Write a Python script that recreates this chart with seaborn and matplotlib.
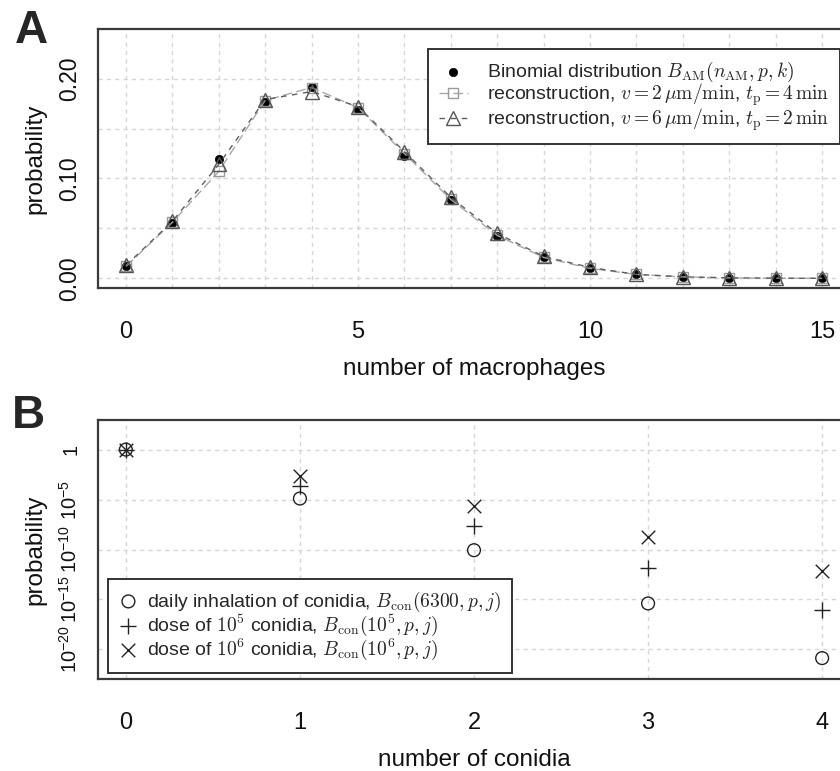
import matplotlib
matplotlib.use("Agg")
import matplotlib.pyplot as plt
import seaborn as sns
import numpy as np
import pandas as pd
from matplotlib.ticker import FixedLocator, FixedFormatter, MultipleLocator

# ---------------- data ----------------
# Panel A: number of macrophages k and probabilities
k_values = list(range(16))
binomial_prob = [0.012, 0.055, 0.120, 0.177, 0.192, 0.169, 0.123, 0.078, 0.042, 0.021,
                 0.010, 0.004, 0.0015, 0.0005, 0.0002, 0.0001]
recon_v2_prob = [0.012, 0.056, 0.107, 0.178, 0.191, 0.171, 0.125, 0.079, 0.043, 0.021,
                 0.010, 0.004, 0.0015, 0.0005, 0.0002, 0.0001]
recon_v6_prob = [0.013, 0.057, 0.114, 0.179, 0.187, 0.172, 0.127, 0.081, 0.045, 0.022,
                 0.011, 0.004, 0.0016, 0.0006, 0.0002, 0.0001]

# Panel B: number of conidia j and probabilities
j_values = [0, 1, 2, 3, 4]
daily_prob = [1.0, 1.26e-5, 8.5e-11, 4.0e-16, 1.35e-21]
dose5_prob = [1.0, 2.5e-4, 2.1e-8, 1.5e-12, 8.5e-17]
dose6_prob = [0.998, 2.1e-3, 2.1e-6, 1.6e-9, 7.9e-13]

a_yticks = [0.0, 0.05, 0.10, 0.15, 0.20]
a_yticklabels = ["0.00", "", "0.10", "", "0.20"]
a_xticks = [0, 5, 10, 15]
b_yticks = [1, 1e-5, 1e-10, 1e-15, 1e-20]
b_yticklabels = ["1", r"$\mathregular{10^{-5}}$", r"$\mathregular{10^{-10}}$",
                 r"$\mathregular{10^{-15}}$", r"$\mathregular{10^{-20}}$"]

dfA = pd.DataFrame({"k": k_values, "binom": binomial_prob,
                    "v2": recon_v2_prob, "v6": recon_v6_prob})
dfB = pd.DataFrame({"j": j_values, "daily": daily_prob,
                    "d5": dose5_prob, "d6": dose6_prob})

# ---------------- style ----------------
sns.set_theme(style="white")
plt.rcParams["font.family"] = ["Liberation Sans", "DejaVu Sans"]
plt.rcParams["mathtext.fontset"] = "cm"
plt.rcParams["mathtext.rm"] = "Liberation Sans"

W, H = 840, 771
fig = plt.figure(figsize=(W / 100, H / 100), dpi=100)


def px_axes(left, top, right, bottom):
    return fig.add_axes([left / W, 1 - bottom / H, (right - left) / W, (bottom - top) / H])


axA = px_axes(98, 29, 850, 288)
axB = px_axes(98, 420, 850, 679)

spine_col = "#3a3a3a"
grid_col = "#d6d6d6"
tick_fs = 17
lab_fs = 17.5
leg_fs = 14


def style_axes(ax, ytick_fs):
    ax.set_axisbelow(True)
    for s in ax.spines.values():
        s.set_color(spine_col)
        s.set_linewidth(1.6)
    ax.tick_params(axis="both", which="major", direction="out", length=9.5, width=1.2,
                   color="#555555", labelcolor="#111111")
    ax.tick_params(axis="x", which="major", pad=14, labelsize=tick_fs)
    ax.tick_params(axis="y", which="major", pad=3, labelsize=ytick_fs)
    ax.tick_params(axis="both", which="minor", length=0)
    ax.grid(True, which="both", color=grid_col, linestyle=(0, (3, 3)), linewidth=1.0)


# ---------------- Panel A ----------------
sns.scatterplot(data=dfA, x="k", y="binom", ax=axA, marker="o", color="black",
                s=36, edgecolor="black", linewidth=0.5, zorder=3,
                label=r"Binomial distribution $B_{\mathrm{AM}}(n_{\mathrm{AM}},p,k)$")
sns.lineplot(data=dfA, x="k", y="v2", ax=axA, color="#a8a8a8", linewidth=1.0,
             linestyle=(0, (7, 3)), marker="s", markersize=7.5,
             markerfacecolor="none", markeredgecolor="#9a9a9a", markeredgewidth=1.0,
             zorder=4,
             label=r"reconstruction, $v=2\,\mu\mathrm{m}/\mathrm{min}$, $t_{\mathrm{p}}=4\,\mathrm{min}$")
sns.lineplot(data=dfA, x="k", y="v6", ax=axA, color="#606060", linewidth=1.0,
             linestyle=(0, (4, 4)), marker="^", markersize=10,
             markerfacecolor="none", markeredgecolor="#555555", markeredgewidth=1.0,
             zorder=5,
             label=r"reconstruction, $v=6\,\mu\mathrm{m}/\mathrm{min}$, $t_{\mathrm{p}}=2\,\mathrm{min}$")

axA.set_xlim(-0.6, 15.6)
axA.set_ylim(-0.0096, 0.2496)
axA.xaxis.set_major_locator(FixedLocator(a_xticks))
axA.xaxis.set_minor_locator(MultipleLocator(1))
axA.yaxis.set_major_locator(FixedLocator(a_yticks))
axA.yaxis.set_major_formatter(FixedFormatter(a_yticklabels))
style_axes(axA, 16.5)
for lab in axA.get_yticklabels():
    lab.set_rotation(90)
    lab.set_va("center")
axA.set_xlabel("number of macrophages", fontsize=lab_fs, color="#111111")
axA.set_ylabel("probability", fontsize=lab_fs, color="#111111")
axA.xaxis.set_label_coords(0.5, -0.27)
axA.yaxis.set_label_coords(-0.068, 0.5)

legA = axA.legend(loc="upper left", bbox_to_anchor=(0.4388, 0.9228), fontsize=leg_fs,
                  frameon=True, fancybox=False, framealpha=1, edgecolor="#333333",
                  borderpad=0.55, handlelength=1.5, handletextpad=1.0, labelspacing=-0.1,
                  borderaxespad=0)
legA.get_frame().set_linewidth(1.4)

# ---------------- Panel B ----------------
sns.scatterplot(data=dfB, x="j", y="daily", ax=axB, marker="o", s=85,
                facecolor="none", edgecolor="#222222", linewidth=1.0, zorder=3,
                label=r"daily inhalation of conidia, $B_{\mathrm{con}}(6300,p,j)$")
sns.scatterplot(data=dfB, x="j", y="d5", ax=axB, marker="+", s=140,
                color="#222222", linewidth=1.0, zorder=3,
                label=r"dose of $10^5$ conidia, $B_{\mathrm{con}}(10^5,p,j)$")
sns.scatterplot(data=dfB, x="j", y="d6", ax=axB, marker="x", s=95,
                color="#222222", linewidth=1.0, zorder=3,
                label=r"dose of $10^6$ conidia, $B_{\mathrm{con}}(10^6,p,j)$")

axB.set_yscale("log")
axB.set_xlim(-0.16, 4.16)
axB.set_ylim(10 ** -22.96, 10 ** 2.96)
axB.xaxis.set_major_locator(FixedLocator(j_values))
axB.yaxis.set_major_locator(FixedLocator(b_yticks))
axB.yaxis.set_major_formatter(FixedFormatter(b_yticklabels))
axB.yaxis.set_minor_locator(FixedLocator([]))
style_axes(axB, 14.5)
for lab in axB.get_yticklabels():
    lab.set_rotation(90)
    lab.set_va("center")
axB.set_xlabel("number of conidia", fontsize=lab_fs, color="#111111")
axB.set_ylabel("probability", fontsize=lab_fs, color="#111111")
axB.xaxis.set_label_coords(0.5, -0.27)
axB.yaxis.set_label_coords(-0.068, 0.5)

legB = axB.legend(loc="lower left", bbox_to_anchor=(0.0133, 0.023), fontsize=leg_fs,
                  frameon=True, fancybox=False, framealpha=1, edgecolor="#333333",
                  borderpad=0.55, handlelength=1.0, handletextpad=0.45, labelspacing=-0.05,
                  borderaxespad=0)
legB.get_frame().set_linewidth(1.4)

# panel letters
fig.text(15 / W, 1 - 43 / H, "A", fontsize=33, fontweight="bold", va="baseline", ha="left")
fig.text(12 / W, 1 - 428 / H, "B", fontsize=33, fontweight="bold", va="baseline", ha="left")

fig.savefig("out.png", dpi=100)
